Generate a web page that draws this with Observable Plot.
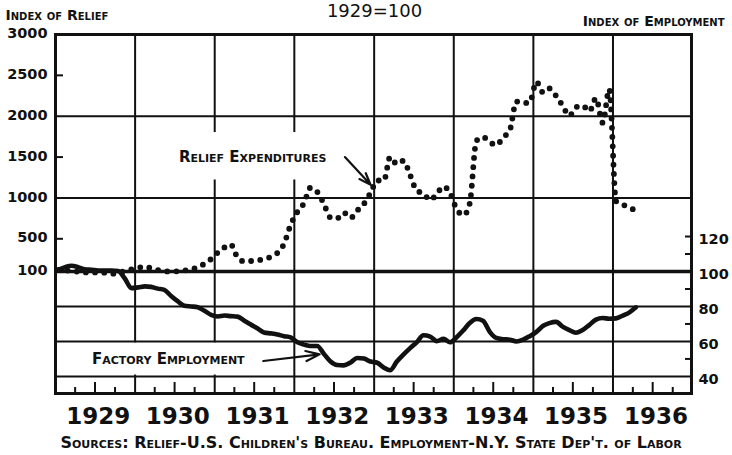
<!DOCTYPE html>
<html><head><meta charset="utf-8">
<script src="https://cdn.jsdelivr.net/npm/d3@7"></script>
<script src="https://cdn.jsdelivr.net/npm/@observablehq/plot@0.6"></script>
<style>
html,body{margin:0;padding:0;background:#fff;}
#chart{width:732px;height:455px;overflow:hidden;}
svg{display:block;}
</style></head><body><div id="chart"></div>
<script>
// ---- data (Jan 1929 .. Apr 1936, monthly, 1929 = 100) ----
const firstMonth = "1929-01";
const lastMonth = "1936-04";
const relief = [
  120,110,115,95,88,88,88,85,72,85,105,125,          // 1929
  145,160,140,118,103,100,103,112,128,150,195,252,   // 1930
  330,395,432,275,225,228,236,252,278,325,440,670,   // 1931
  829,940,1125,1075,930,760,750,820,755,845,928,1060, // 1932
  1213,1215,1500,1415,1455,1280,1090,1055,975,1050,1140,1060, // 1933
  860,790,930,1700,1745,1685,1645,1740,1830,2180,2160,2170,   // 1934
  2420,2290,2340,2250,2130,2005,2110,2130,2060,2220,1920,2330, // 1935
  960,920,880,850                                       // 1936
];
const employment = [
  101,102.5,103.3,102.5,101.3,101,100.6,100.6,100.6,100.3,96,90.5, // 1929
  90.9,91.5,91.2,90.2,89.5,86,83,80.4,80,79.6,77.5,75.2,            // 1930
  74.3,74.8,74.5,74.2,72,69.7,67.5,65.1,64.6,64,63,62.3,            // 1931
  59.5,58.2,57.4,57.4,53,48.5,46.5,46.3,48,50.5,50.2,48.5,          // 1932
  47.8,45,43.5,48.5,52.5,56.2,59.5,63.5,62.8,60.2,61.5,59.5,        // 1933
  62.5,66.5,70.5,72.8,71.8,65.5,62,61.3,61,60,61,63,                // 1934
  65.5,69,70.5,71.2,68.5,66.5,65,66.5,69.5,72.5,73.4,73,            // 1935
  73.2,74.8,76.5,79.5                                              // 1936
];
const years = [1929,1930,1931,1932,1933,1934,1935,1936];
const reliefTicks = [100,500,1000,1500,2000,2500,3000];
const reliefMinorTicks = [500,1500,2500];
const reliefGrid = [1000,2000];
const employmentTicks = [40,60,80,100,120];
const employmentMinorTicks = [50,70,90,110,120];
const employmentGrid = [40,60,80];

// ---- scales ----
const EMP_K = 21.4;                       // relief units per employment point
const toRel = e => 100 + (e - 100) * EMP_K;
const yDomain = [-1393, 3000];
const xDomain = [new Date(Date.UTC(1929,0,1)), new Date(Date.UTC(1936,11,26))];

const parseM = d3.utcParse("%Y-%m");
const months = d3.utcMonth.range(parseM(firstMonth), d3.utcMonth.offset(parseM(lastMonth), 1))
  .map(d => d3.utcDay.offset(d, 14));
const reliefData = months.map((date, i) => ({date, value: relief[i]}));
const employmentData = months.map((date, i) => ({date, value: employment[i]}));
const yearStarts = years.slice(1).map(y => new Date(Date.UTC(y,0,1)));
const quarterShort = years.flatMap(y => [new Date(Date.UTC(y,3,1)), new Date(Date.UTC(y,9,1))]);
const quarterMid = years.map(y => new Date(Date.UTC(y,6,1)));

const D = s => new Date(s);
// annotations
const labels = [
  {text: "Relief Expenditures", x: D("1931-06-24"), y: 1434, len: 180},
  {text: "Factory Employment", x: D("1930-06-02"), y: toRel(46.9), len: 186}
];
const arrows = [
  {x1: D("1932-08-20"), y1: 1500, x2: D("1932-12-16"), y2: 1160},
  {x1: D("1931-08-12"), y1: toRel(48.8), x2: D("1932-04-26"), y2: toRel(52.6)}
];
const gapBoxes = [
  {x1: D("1930-09-01"), x2: D("1932-04-01"), y1: 1220, y2: 1800},
  {x1: D("1929-06-01"), x2: D("1931-06-01"), y1: toRel(59.2), y2: toRel(40.8)}
];

const INK = "#111";
const FONT = "DejaVu Sans";

const svg = Plot.plot({
  width: 732, height: 455,
  marginTop: 34, marginRight: 41, marginBottom: 62, marginLeft: 55,
  style: {background: "#fff", overflow: "visible"},
  x: {type: "utc", domain: xDomain, axis: null},
  y: {domain: yDomain, axis: null},
  marks: [
    Plot.ruleX(yearStarts, {stroke: INK, strokeWidth: 2}),
    Plot.rect(gapBoxes, {x1: "x1", x2: "x2", y1: "y1", y2: "y2", fill: "#fff"}),
    Plot.ruleY(reliefGrid, {stroke: INK, strokeWidth: 2}),
    Plot.ruleY(employmentGrid.map(toRel), {stroke: INK, strokeWidth: 2}),
    Plot.ruleY([100], {stroke: INK, strokeWidth: 3.4}),
    Plot.tickY(reliefMinorTicks, {stroke: INK, strokeWidth: 2, insetRight: 628}),
    Plot.tickY(employmentMinorTicks.map(toRel), {stroke: INK, strokeWidth: 2, insetLeft: 630}),
    Plot.tickX(quarterShort, {stroke: INK, strokeWidth: 2, insetTop: 353}),
    Plot.tickX(quarterMid, {stroke: INK, strokeWidth: 2, insetTop: 348}),
    Plot.frame({stroke: INK, strokeWidth: 3}),
    Plot.line(employmentData, {x: "date", y: d => toRel(d.value), stroke: INK, strokeWidth: 4.6,
      curve: "monotone-x", strokeLinecap: "round", strokeLinejoin: "round"}),
    Plot.line(reliefData, {x: "date", y: "value", stroke: INK, strokeWidth: 5.8,
      strokeDasharray: "0 9.2", strokeLinecap: "round", curve: "monotone-x"}),
    Plot.arrow(arrows, {x1: "x1", y1: "y1", x2: "x2", y2: "y2", stroke: INK, strokeWidth: 2.2,
      headLength: 10, headAngle: 40}),
    Plot.text(labels, {x: "x", y: "y", text: "text", lineAnchor: "bottom", textAnchor: "middle",
      fontFamily: FONT, fontWeight: "bold", fontVariant: "small-caps", fontSize: 15, fill: INK, ariaLabel: "annot"}),
    // left axis labels
    Plot.text(reliefTicks, {y: d => d, text: d => String(d), frameAnchor: "left", textAnchor: "end",
      dx: -8, dy: -1, fontFamily: FONT, fontWeight: "bold", fontSize: 14.5, fill: INK}),
    // right axis labels
    Plot.text(employmentTicks, {y: d => toRel(d), text: d => String(d), frameAnchor: "right", textAnchor: "start",
      dx: 7, dy: 2.5, fontFamily: FONT, fontWeight: "bold", fontSize: 14.5, fill: INK}),
    // years
    Plot.text(years, {x: d => new Date(Date.UTC(d,6,2)), text: d => String(d), frameAnchor: "bottom",
      lineAnchor: "bottom", dy: 30, dx: 3, fontFamily: FONT, fontWeight: "bold", fontSize: 23, fill: INK, ariaLabel: "years"}),
    // headers / footer
    Plot.text(["1929=100"], {frameAnchor: "top", lineAnchor: "bottom", dy: -18, dx: 1,
      fontFamily: FONT, fontSize: 18, fill: INK, ariaLabel: "title"}),
    Plot.text(["Index of Relief"], {frameAnchor: "top-left", textAnchor: "start", lineAnchor: "bottom", dx: -50, dy: -15,
      fontFamily: FONT, fontWeight: "bold", fontVariant: "small-caps", fontSize: 14, fill: INK, ariaLabel: "hdr-left"}),
    Plot.text(["Index of Employment"], {frameAnchor: "top-right", textAnchor: "end", lineAnchor: "bottom", dx: 33, dy: -9,
      fontFamily: FONT, fontWeight: "bold", fontVariant: "small-caps", fontSize: 14, fill: INK, ariaLabel: "hdr-right"}),
    Plot.text(["Sources: Relief-U.S. Children's Bureau. Employment-N.Y. State Dep't. of Labor"], {frameAnchor: "bottom",
      textAnchor: "middle", lineAnchor: "bottom", dx: -2.5, dy: 54,
      fontFamily: FONT, fontWeight: "bold", fontVariant: "small-caps", fontSize: 16, fill: INK, ariaLabel: "footer"})
  ]
});
document.getElementById("chart").appendChild(svg);

function fit(name, len) {
  d3.select(svg).selectAll(`g[aria-label="${name}"] text`)
    .attr("textLength", len)
    .attr("lengthAdjust", "spacingAndGlyphs");
}
fit("years", 41);
fit("annot", (d, i) => labels[i].len);
fit("title", 104);
fit("hdr-left", 123);
fit("hdr-right", 170);
fit("footer", 635);
</script></body></html>
